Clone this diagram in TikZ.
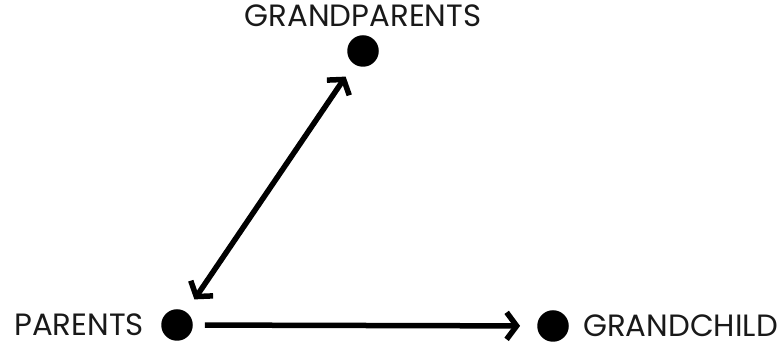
\documentclass[tikz,border=0pt]{standalone}
\usepackage{fontspec}
\setmainfont{Poppins}
\usetikzlibrary{positioning, arrows.meta}

\begin{document}
\begin{tikzpicture}[
    x=1pt, y=1pt,
    dot/.style={circle, fill=black, inner sep=0pt, minimum size=31.5pt},
    lbl/.style={font=\fontsize{30.8}{33}\selectfont, inner sep=0pt, text=black!90},
    arr/.style={line width=5.5pt, -{Straight Barb[length=10pt, width=27pt]}},
    darr/.style={line width=5.5pt, {Straight Barb[length=10pt, width=27pt]}-{Straight Barb[length=10pt, width=27pt]}},
]
\useasboundingbox (0,0) rectangle (779,342);
\node[dot] (grandparents) at (363,291) {};
\node[dot] (parents) at (177,17) {};
\node[dot] (grandchild) at (553,16) {};

\node[lbl, above=8pt of grandparents] (gplabel) {GRANDPARENTS};
\node[lbl, left=17pt of parents] (plabel) {PARENTS};
\node[lbl, right=14pt of grandchild] (gclabel) {GRANDCHILD};

\draw[darr, shorten <=15pt, shorten >=15pt] (parents) -- (grandparents);
\draw[arr, shorten <=12pt, shorten >=17pt] (parents) -- (grandchild);
\end{tikzpicture}
\end{document}
